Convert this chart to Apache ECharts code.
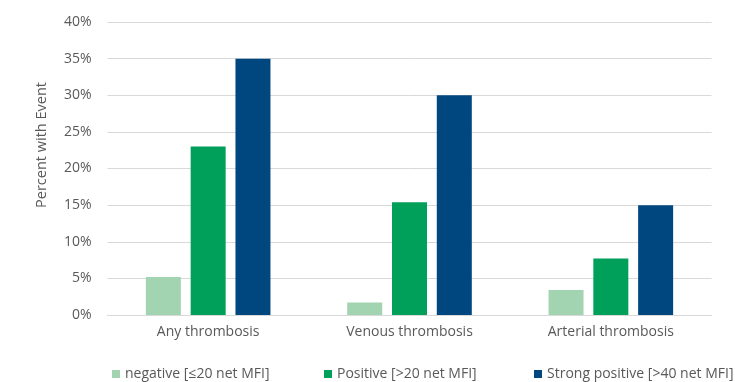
<!DOCTYPE html>
<html><head><meta charset="utf-8">
<script src="https://cdn.jsdelivr.net/npm/echarts@6/dist/echarts.min.js"></script>
<style>html,body{margin:0;padding:0;background:#fff}#c{width:735px;height:382px}</style>
</head><body><div id="c"></div>
<script>
const categories = ['Any thrombosis', 'Venous thrombosis', 'Arterial thrombosis'];
const seriesNames = ['negative [≤20 net MFI]', 'Positive [>20 net MFI]', 'Strong positive [>40 net MFI]'];
const negativeVals = [5.2, 1.7, 3.4];
const positiveVals = [23, 15.4, 7.7];
const strongVals = [35, 30, 15];
const yTitle = 'Percent with Event';
const colors = ['#a3d4b1', '#00a05a', '#00467f'];
const font = 'Open Sans, Liberation Sans, Arial, sans-serif';
const txt = '#595959';
const chart = echarts.init(document.getElementById('c'));
const legendLefts = [107, 319, 529];
chart.setOption({
  animation: false,
  grid: {left: 107.5, right: 23.5, top: 22, bottom: 67},
  xAxis: {
    type: 'category', data: categories,
    axisLine: {lineStyle: {color: '#d9d9d9', width: 1}},
    axisTick: {show: false},
    axisLabel: {color: txt, fontSize: 14, fontFamily: font, margin: 10}
  },
  yAxis: {
    type: 'value', min: 0, max: 40, interval: 5,
    axisLine: {show: false}, axisTick: {show: false},
    axisLabel: {color: txt, fontSize: 14, fontFamily: font, formatter: '{value}%', margin: 16},
    splitLine: {lineStyle: {color: '#d9d9d9', width: 1}}
  },
  graphic: [{
    type: 'text', x: 42, y: 145, rotation: Math.PI / 2,
    style: {text: yTitle, fill: txt, font: '14.5px ' + font, align: 'center', verticalAlign: 'middle'}
  }],
  legend: seriesNames.map((n, i) => ({
    data: [n], left: legendLefts[i], top: 362, itemWidth: 8, itemHeight: 8, itemGap: 4,
    icon: 'rect', textStyle: {color: txt, fontSize: 14, fontFamily: font}
  })),
  series: [negativeVals, positiveVals, strongVals].map((d, i) => ({
    name: seriesNames[i], type: 'bar', data: d, barWidth: 35, barGap: '28%',
    itemStyle: {color: colors[i]}
  }))
});
</script></body></html>
